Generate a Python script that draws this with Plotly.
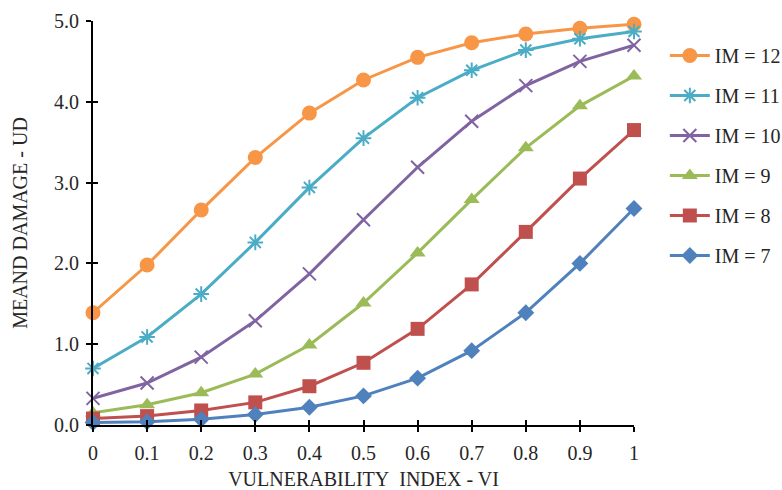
import plotly.graph_objects as go

# Vulnerability index (x) and mean damage for each intensity level (IM)
vi = [0, 0.1, 0.2, 0.3, 0.4, 0.5, 0.6, 0.7, 0.8, 0.9, 1.0]

im12 = [1.39, 1.98, 2.66, 3.31, 3.86, 4.27, 4.55, 4.73, 4.84, 4.91, 4.96]
im11 = [0.70, 1.09, 1.62, 2.26, 2.94, 3.55, 4.05, 4.39, 4.64, 4.78, 4.87]
im10 = [0.33, 0.52, 0.84, 1.29, 1.87, 2.54, 3.19, 3.76, 4.20, 4.50, 4.70]
im9 = [0.15, 0.25, 0.40, 0.63, 0.99, 1.51, 2.13, 2.79, 3.43, 3.95, 4.32]
im8 = [0.08, 0.11, 0.18, 0.28, 0.48, 0.77, 1.19, 1.74, 2.39, 3.05, 3.65]
im7 = [0.03, 0.04, 0.07, 0.13, 0.22, 0.36, 0.58, 0.92, 1.39, 2.00, 2.68]

x_ticks = [0, 0.1, 0.2, 0.3, 0.4, 0.5, 0.6, 0.7, 0.8, 0.9, 1]
x_tick_text = ["0", "0.1", "0.2", "0.3", "0.4", "0.5", "0.6", "0.7", "0.8", "0.9", "1"]
y_ticks = [0, 1, 2, 3, 4, 5]
y_tick_text = ["0.0", "1.0", "2.0", "3.0", "4.0", "5.0"]

series = [
    ("IM = 12", im12, "#F79646", "circle", 15, 0),
    ("IM = 11", im11, "#4BACC6", "asterisk-open", 13, 2),
    ("IM = 10", im10, "#8064A2", "x-thin-open", 13, 2),
    ("IM = 9", im9, "#9BBB59", "triangle-up", 14, 0),
    ("IM = 8", im8, "#C0504D", "square", 14, 0),
    ("IM = 7", im7, "#4F81BD", "diamond", 13, 0),
]

FONT = "Liberation Serif"
TEXT = "#262626"

fig = go.Figure()
for i, (name, ys, color, symbol, size, lw) in enumerate(series):
    fig.add_trace(go.Scatter(
        x=vi, y=ys, name=name, mode="lines+markers",
        line=dict(color=color, width=3),
        marker=dict(symbol=symbol, size=size, color=color,
                    line=dict(color=color, width=lw)),
        cliponaxis=False, legendgroup=f"g{i}",
    ))

# Overlay axes supply the inward half of the crossing tick marks
fig.add_trace(go.Scatter(x=[], y=[], xaxis="x2", yaxis="y2", showlegend=False))

fig.update_layout(
    width=782, height=490,
    margin=dict(l=93, r=148, t=21, b=65, autoexpand=False),
    paper_bgcolor="white", plot_bgcolor="white",
    font=dict(family=FONT, color=TEXT, size=20),
    showlegend=True,
    legend=dict(
        x=1.057, xanchor="left", y=0.963, yanchor="top",
        font=dict(family=FONT, size=20, color=TEXT),
        tracegroupgap=11, itemwidth=40,
        bgcolor="rgba(0,0,0,0)",
    ),
    xaxis=dict(
        range=[0, 1], tickvals=x_ticks, ticktext=x_tick_text,
        showgrid=False, zeroline=False, showline=True,
        linecolor="black", linewidth=2,
        ticks="outside", ticklen=5, tickwidth=2, tickcolor="black",
        ticklabelstandoff=4,
        tickfont=dict(family=FONT, size=20, color=TEXT),
        title=dict(text="VULNERABILITY\u00a0 INDEX - VI",
                   font=dict(family=FONT, size=20, color=TEXT),
                   standoff=12),
    ),
    yaxis=dict(
        range=[0, 5], tickvals=y_ticks, ticktext=y_tick_text,
        showgrid=False, zeroline=False, showline=True,
        linecolor="black", linewidth=2,
        ticks="outside", ticklen=5, tickwidth=2, tickcolor="black",
        ticklabelstandoff=3,
        tickfont=dict(family=FONT, size=20, color=TEXT),
        title=dict(text="MEAND DAMAGE - UD",
                   font=dict(family=FONT, size=20, color=TEXT),
                   standoff=21),
    ),
    xaxis2=dict(
        overlaying="x", anchor="y2", range=[0, 1], tickvals=x_ticks,
        showticklabels=False, showgrid=False, zeroline=False, showline=False,
        ticks="inside", ticklen=5, tickwidth=2, tickcolor="black",
    ),
    yaxis2=dict(
        overlaying="y", anchor="x2", range=[0, 5], tickvals=y_ticks,
        showticklabels=False, showgrid=False, zeroline=False, showline=False,
        ticks="inside", ticklen=5, tickwidth=2, tickcolor="black",
    ),
)

fig.write_html("out.html")
